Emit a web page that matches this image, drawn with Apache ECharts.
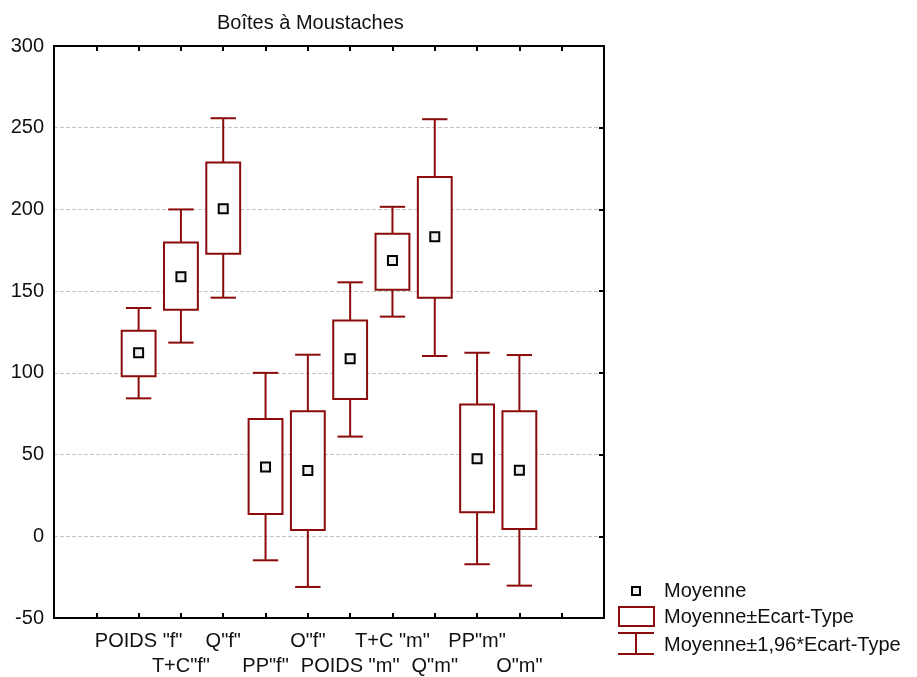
<!DOCTYPE html>
<html>
<head>
<meta charset="utf-8">
<script src="https://cdn.jsdelivr.net/npm/echarts@6/dist/echarts.min.js"></script>
<style>
html,body{margin:0;padding:0;background:#fff;}
#chart{width:917px;height:677px;}
</style>
</head>
<body>
<div id="chart"></div>
<script>
var categories = ['POIDS "f"', 'T+C"f"', 'Q"f"', 'PP"f"', 'O"f"', 'POIDS "m"', 'T+C "m"', 'Q"m"', 'PP"m"', 'O"m"'];
var means   = [112.3, 158.8, 200.4, 42.4, 40.2, 108.7, 168.8, 183.3, 47.5, 40.4];
var sdLow   = [98.0, 138.6, 172.9, 13.6, 3.9, 84.0, 150.9, 146.0, 14.7, 4.5];
var sdHigh  = [125.8, 179.8, 228.7, 71.7, 76.5, 132.1, 185.1, 219.8, 80.7, 76.5];
var ciLow   = [84.4, 118.5, 146.0, -14.7, -31.0, 61.0, 134.4, 110.3, -17.1, -30.2];
var ciHigh  = [139.7, 200.0, 255.8, 100.0, 111.1, 155.4, 201.6, 255.2, 112.3, 110.9];
var yTicks  = [-50, 0, 50, 100, 150, 200, 250, 300];

var RED = '#8b0a0a';
var FONT = '"Liberation Sans", Arial, sans-serif';
var FS = 20;
var OFFSET = 2; // first category sits on the second x tick

var boxData = categories.map(function (c, i) {
  return [i + OFFSET, ciLow[i], sdLow[i], sdHigh[i], ciHigh[i]];
});
var meanData = categories.map(function (c, i) { return [i + OFFSET, means[i]]; });

function renderBox(params, api) {
  var x = api.value(0);
  var wl = api.coord([x, api.value(1)]);
  var bl = api.coord([x, api.value(2)]);
  var bh = api.coord([x, api.value(3)]);
  var wh = api.coord([x, api.value(4)]);
  var bw = api.size([0.8, 0])[0];
  var cw = api.size([0.6, 0])[0];
  var st = { stroke: RED, lineWidth: 2, fill: null };
  return {
    type: 'group',
    children: [
      { type: 'line', shape: { x1: wh[0], y1: wh[1], x2: bh[0], y2: bh[1] }, style: st },
      { type: 'line', shape: { x1: bl[0], y1: bl[1], x2: wl[0], y2: wl[1] }, style: st },
      { type: 'line', shape: { x1: wh[0] - cw / 2, y1: wh[1], x2: wh[0] + cw / 2, y2: wh[1] }, style: st },
      { type: 'line', shape: { x1: wl[0] - cw / 2, y1: wl[1], x2: wl[0] + cw / 2, y2: wl[1] }, style: st },
      { type: 'rect', shape: { x: bh[0] - bw / 2, y: bh[1], width: bw, height: bl[1] - bh[1] },
        style: { stroke: RED, lineWidth: 2, fill: '#ffffff' } }
    ]
  };
}

function xLabel(v) {
  var i = Math.round(v) - OFFSET;
  if (i < 0 || i >= categories.length) return '';
  return (i % 2 === 0) ? categories[i] : '\n' + categories[i];
}

var chart = echarts.init(document.getElementById('chart'), null, { renderer: 'canvas' });
var option = {
  backgroundColor: '#ffffff',
  animation: false,
  title: {
    text: 'Boîtes à Moustaches',
    left: 212, top: 8,
    textStyle: { fontFamily: FONT, fontSize: FS, fontWeight: 'normal', color: '#111' }
  },
  grid: { left: 54, top: 46, right: 313, bottom: 59, containLabel: false, outerBoundsMode: 'none' },
  xAxis: [{
    type: 'value', min: 0, max: 13, interval: 1, position: 'bottom',
    axisLine: { show: true, onZero: false, lineStyle: { color: '#000', width: 2 } },
    axisTick: { show: true, inside: true, length: 5, lineStyle: { color: '#000', width: 2 } },
    splitLine: { show: false },
    axisLabel: {
      show: true, margin: 11, formatter: xLabel, showMinLabel: true, showMaxLabel: true,
      fontFamily: FONT, fontSize: FS, color: '#111', lineHeight: 25, verticalAlign: 'top'
    }
  }, {
    type: 'value', min: 0, max: 13, interval: 1, position: 'top',
    axisLine: { show: true, onZero: false, lineStyle: { color: '#000', width: 2 } },
    axisTick: { show: true, inside: true, length: 5, lineStyle: { color: '#000', width: 2 } },
    splitLine: { show: false },
    axisLabel: { show: false }
  }],
  yAxis: [{
    type: 'value', min: yTicks[0], max: yTicks[yTicks.length - 1], interval: 50, position: 'left',
    axisLine: { show: true, onZero: false, lineStyle: { color: '#000', width: 2 } },
    axisTick: { show: false },
    splitLine: { show: true, lineStyle: { color: '#c4c4c4', width: 1, type: [4, 2] } },
    axisLabel: { margin: 10, fontFamily: FONT, fontSize: FS, color: '#111' }
  }, {
    type: 'value', min: yTicks[0], max: yTicks[yTicks.length - 1], interval: 50, position: 'right',
    axisLine: { show: true, onZero: false, lineStyle: { color: '#000', width: 2 } },
    axisTick: { show: true, inside: true, length: 5, lineStyle: { color: '#000', width: 2 } },
    splitLine: { show: false },
    axisLabel: { show: false }
  }],
  series: [{
    type: 'custom',
    name: 'box',
    renderItem: renderBox,
    xAxisIndex: 0, yAxisIndex: 0,
    encode: { x: 0, y: [1, 2, 3, 4] },
    data: boxData,
    z: 3
  }, {
    type: 'scatter',
    name: 'Moyenne',
    xAxisIndex: 0, yAxisIndex: 0,
    symbol: 'rect', symbolSize: 9,
    itemStyle: { color: '#eeeeee', borderColor: '#000', borderWidth: 2, opacity: 1 },
    data: meanData,
    z: 5
  }],
  graphic: [
    { type: 'rect', shape: { x: 632, y: 587, width: 8, height: 8 },
      style: { fill: '#eeeeee', stroke: '#000', lineWidth: 2 } },
    { type: 'text', x: 664, y: 591,
      style: { text: 'Moyenne', fontFamily: FONT, fontSize: FS, fill: '#111', verticalAlign: 'middle' } },
    { type: 'rect', shape: { x: 619, y: 607, width: 35, height: 19 },
      style: { fill: '#fff', stroke: RED, lineWidth: 2 } },
    { type: 'text', x: 664, y: 617,
      style: { text: 'Moyenne±Ecart-Type', fontFamily: FONT, fontSize: FS, fill: '#111', verticalAlign: 'middle' } },
    { type: 'line', shape: { x1: 618, y1: 633, x2: 654, y2: 633 }, style: { stroke: RED, lineWidth: 2 } },
    { type: 'line', shape: { x1: 618, y1: 654, x2: 654, y2: 654 }, style: { stroke: RED, lineWidth: 2 } },
    { type: 'line', shape: { x1: 636, y1: 633, x2: 636, y2: 654 }, style: { stroke: RED, lineWidth: 2 } },
    { type: 'text', x: 664, y: 645,
      style: { text: 'Moyenne±1,96*Ecart-Type', fontFamily: FONT, fontSize: FS, fill: '#111', verticalAlign: 'middle' } }
  ]
};
chart.setOption(option);
</script>
</body>
</html>
